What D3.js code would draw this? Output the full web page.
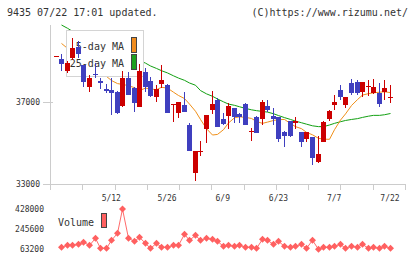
<!DOCTYPE html>
<html>
<head>
<meta charset="utf-8">
<script src="https://cdn.jsdelivr.net/npm/d3@7/dist/d3.min.js"></script>
<style>
	body { margin: 0; background: #fff; }
	svg { display: block; font-family: 'DejaVu Sans Mono', monospace; }
</style>
</head>
<body>
<div id="chart"><svg width="420" height="259"></svg></div>
<script>
// daily candles, first entry (4/23) has no volume / MA
var dates = ['4/23','4/24','4/25','4/28','4/30','5/1','5/2','5/7','5/8','5/9',
	'5/12','5/13','5/14','5/15','5/16','5/19','5/20','5/21','5/22','5/23',
	'5/26','5/27','5/28','5/29','5/30','6/2','6/3','6/4','6/5','6/6',
	'6/9','6/10','6/11','6/12','6/13','6/16','6/17','6/18','6/19','6/20',
	'6/23','6/24','6/25','6/26','6/27','6/30','7/1','7/2','7/3','7/4',
	'7/7','7/8','7/9','7/10','7/11','7/14','7/15','7/16','7/17','7/18','7/22'];
var open = [39260,39110,38530,39160,39670,38790,37750,38380,38020,37630,
	37590,37490,36790,38170,37670,36770,38460,38020,37260,37890,
	37810,36890,36480,36850,35860,33550,34610,35700,36610,37100,
	36170,36330,36690,36410,36900,35590,36270,36190,36800,36320,
	36270,35540,36070,35990,35540,35210,35280,34090,35070,36170,
	36850,37600,36880,37930,37980,37500,37760,37420,37420,37500,37260];
var high = [39260,39330,39000,40140,39990,38790,38320,38920,38170,37900,
	38170,37550,38530,38480,37750,38880,38640,38200,37830,38800,
	37860,36890,37000,37500,35960,34610,35110,36370,37540,37210,
	36450,36950,36690,36450,36930,35720,36320,37100,37100,36720,
	36270,35600,36070,36280,35540,35540,35280,35340,36070,36610,
	37340,37810,37240,38110,38070,37980,38070,38120,37940,38070,37830];
var low = [39260,38530,38400,39050,39130,37750,37500,38150,37650,37450,
	36380,36430,36740,37330,36530,36770,37500,37230,37020,37670,
	36480,36010,36240,36530,34630,33160,34370,34980,36400,35760,
	35860,35700,35990,35990,35890,35110,35500,35890,36530,35860,
	35070,34820,35310,35700,34790,35050,33930,34010,35070,36090,
	36610,37100,36720,37340,37340,37260,37310,37390,36770,37100,36970];
var close = [39260,38870,38920,39630,39360,37990,38190,38340,37910,37540,
	37460,36480,38170,37360,36970,38530,37750,37290,37630,38060,
	36480,36890,37000,36530,34630,34610,34610,36370,36900,35760,
	35930,36800,36290,36290,35890,35590,35500,37000,36610,36170,
	35210,35330,35340,36090,35060,35540,34290,34460,36030,36560,
	37000,37240,37240,37460,37460,37980,37760,37730,36920,37670,37260];
var ma5 = [null,39860,39620,39500,39300,39050,38850,38680,38450,38250,
	38050,37900,37860,37800,37700,37560,37680,37640,37600,37720,
	37680,37480,37320,37170,36900,36550,36150,35700,35390,35420,
	35650,35980,36230,36280,36250,36200,36050,35960,36020,36100,
	36140,36150,35950,35800,35700,35520,35400,35230,35190,35180,
	35650,36120,36420,36830,37120,37340,37410,37450,37480,37500,37460];
var ma25 = [null,40760,40600,40450,40300,40150,40000,39870,39750,39630,
	39520,39420,39320,39220,39120,39020,38900,38760,38640,38530,
	38420,38280,38170,38060,37930,37820,37560,37400,37280,37150,
	37010,36900,36840,36770,36690,36620,36580,36540,36510,36430,
	36340,36240,36150,36070,35990,35920,35840,35800,35800,35880,
	35960,36040,36100,36150,36190,36250,36310,36350,36350,36380,36440];
var volume = [null,78400,96640,96640,105760,124000,96640,160480,69280,69280,
	142240,206080,428000,160480,133120,169600,114880,69280,114880,78400,
	78400,96640,96640,196960,142240,187840,142240,160480,151360,133120,
	87520,96640,87520,96640,78400,78400,69280,151360,142240,105760,
	133120,87520,78400,87520,105760,69280,142240,60160,78400,78400,
	87520,105760,69280,87520,78400,105760,69280,78400,69280,87520,69280];

var priceTicks = [33000, 37000];
var volumeTicks = [63200, 245600, 428000];
var dateLabels = ['5/12', '5/26', '6/9', '6/23', '7/7', '7/22'];
var legendItems = [
	{ name: '5-day MA', color: '#f08c1e' },
	{ name: '25-day MA', color: '#1ea01e' }
];

var RED = '#cc0000';
var BLUE = '#3f3fbf';
var AXIS = '#cccccc';
var TEXT = '#333333';

var svg = d3.select('#chart > svg');
var idx = d3.range(dates.length);

var x = d3.scaleLinear().domain([-1, 62.7]).range([50, 405]);
var xTick = d3.scaleLinear().domain([0, 11]).range([50, 405]);
var y = d3.scaleLinear().domain([33000, 40760]).range([184, 25]);
var yVol = d3.scaleLinear().domain([63200, 428000]).range([249, 209]);

function cx(i) { return Math.round(x(i)); }

// header
svg.append('text')
	.attr('x', 7).attr('y', 16)
	.attr('font-size', 10).attr('fill', TEXT)
	.text('9435 07/22 17:01 updated.');
svg.append('text')
	.attr('x', 408).attr('y', 16)
	.attr('text-anchor', 'end')
	.attr('font-size', 10).attr('fill', TEXT)
	.text('(C)https://www.rizumu.net/');

// axes
var axes = svg.append('g').attr('shape-rendering', 'crispEdges').attr('stroke', AXIS);
axes.append('line').attr('x1', 50.5).attr('x2', 50.5).attr('y1', 25).attr('y2', 190);
axes.append('line').attr('x1', 43).attr('x2', 405).attr('y1', 184.5).attr('y2', 184.5);
axes.selectAll('.xt')
	.data(d3.range(1, 12))
	.enter().append('line')
	.attr('class', 'xt')
	.attr('x1', function(d) { return Math.round(xTick(d)) + 0.5 })
	.attr('x2', function(d) { return Math.round(xTick(d)) + 0.5 })
	.attr('y1', 184).attr('y2', 190);
axes.selectAll('.yt')
	.data(priceTicks)
	.enter().append('line')
	.attr('class', 'yt')
	.attr('x1', 43).attr('x2', 53)
	.attr('y1', function(d) { return Math.round(y(d)) + 0.5 })
	.attr('y2', function(d) { return Math.round(y(d)) + 0.5 });

svg.selectAll('.ylab')
	.data(priceTicks)
	.enter().append('text')
	.attr('class', 'ylab')
	.attr('x', 40)
	.attr('y', function(d) { return y(d) + 3 })
	.attr('text-anchor', 'end')
	.attr('font-size', 8).attr('fill', TEXT)
	.text(function(d) { return d });

svg.selectAll('.xlab')
	.data(dateLabels)
	.enter().append('text')
	.attr('class', 'xlab')
	.attr('x', function(d) { return x(dates.indexOf(d)) })
	.attr('y', 201)
	.attr('text-anchor', 'middle')
	.attr('font-size', 8).attr('fill', TEXT)
	.text(function(d) { return d });

// moving averages
var maLine = function(arr) {
	return d3.line()
		.defined(function(i) { return arr[i] != null })
		.x(function(i) { return cx(i) + 0.5 })
		.y(function(i) { return y(arr[i]) })(idx);
};
svg.append('path')
	.attr('d', maLine(ma25))
	.attr('fill', 'none').attr('stroke', '#12a012').attr('stroke-width', 1);
svg.append('path')
	.attr('d', maLine(ma5))
	.attr('fill', 'none').attr('stroke', '#f0901a').attr('stroke-width', 1);

// legend box
var legend = svg.append('g');
legend.append('rect')
	.attr('x', 66.5).attr('y', 30.5).attr('width', 77).attr('height', 46)
	.attr('fill', '#fff').attr('stroke', '#d4d4d4');
legend.selectAll('text')
	.data(legendItems)
	.enter().append('text')
	.attr('x', 124)
	.attr('y', function(d, i) { return 50 + i * 16.5 })
	.attr('text-anchor', 'end')
	.attr('font-size', 10).attr('fill', TEXT)
	.text(function(d) { return d.name });
legend.selectAll('rect.sw')
	.data(legendItems)
	.enter().append('rect')
	.attr('class', 'sw')
	.attr('x', 131.5)
	.attr('y', function(d, i) { return 37.5 + i * 17 })
	.attr('width', 5).attr('height', 15)
	.attr('fill', function(d) { return d.color })
	.attr('stroke', '#444');

// candles
var candles = svg.append('g').attr('shape-rendering', 'crispEdges');
var c = candles.selectAll('g')
	.data(idx)
	.enter().append('g')
	.attr('fill', function(i) { return close[i] >= open[i] ? RED : BLUE });
c.append('rect')
	.attr('x', function(i) { return cx(i) })
	.attr('width', 1)
	.attr('y', function(i) { return Math.round(y(high[i])) })
	.attr('height', function(i) { return Math.max(1, Math.round(y(low[i])) - Math.round(y(high[i]))) });
c.append('rect')
	.attr('x', function(i) { return cx(i) - 2 })
	.attr('width', 5)
	.attr('y', function(i) { return Math.round(y(Math.max(open[i], close[i]))) })
	.attr('height', function(i) {
		return Math.max(1, Math.round(y(Math.min(open[i], close[i]))) - Math.round(y(Math.max(open[i], close[i]))));
	});

// volume
svg.selectAll('.vlab')
	.data(volumeTicks)
	.enter().append('text')
	.attr('class', 'vlab')
	.attr('x', 44)
	.attr('y', function(d) { return yVol(d) + 3 })
	.attr('text-anchor', 'end')
	.attr('font-size', 8).attr('fill', TEXT)
	.text(function(d) { return d });

svg.append('path')
	.attr('d', d3.line()
		.defined(function(i) { return volume[i] != null })
		.x(function(i) { return cx(i) + 0.5 })
		.y(function(i) { return yVol(volume[i]) })(idx))
	.attr('fill', 'none').attr('stroke', '#ff6b6b').attr('stroke-width', 1);

svg.selectAll('.vpt')
	.data(idx.filter(function(i) { return volume[i] != null }))
	.enter().append('path')
	.attr('class', 'vpt')
	.attr('d', 'M0,-3.5L3.5,0L0,3.5L-3.5,0Z')
	.attr('transform', function(i) { return 'translate(' + (cx(i) + 0.5) + ',' + yVol(volume[i]) + ')' })
	.attr('fill', '#ff6060');

svg.append('text')
	.attr('x', 58).attr('y', 226)
	.attr('font-size', 10).attr('fill', TEXT)
	.text('Volume');
svg.append('rect')
	.attr('x', 101.5).attr('y', 213.5).attr('width', 5).attr('height', 14)
	.attr('fill', '#ff6060').attr('stroke', '#444');
</script>
</body>
</html>
